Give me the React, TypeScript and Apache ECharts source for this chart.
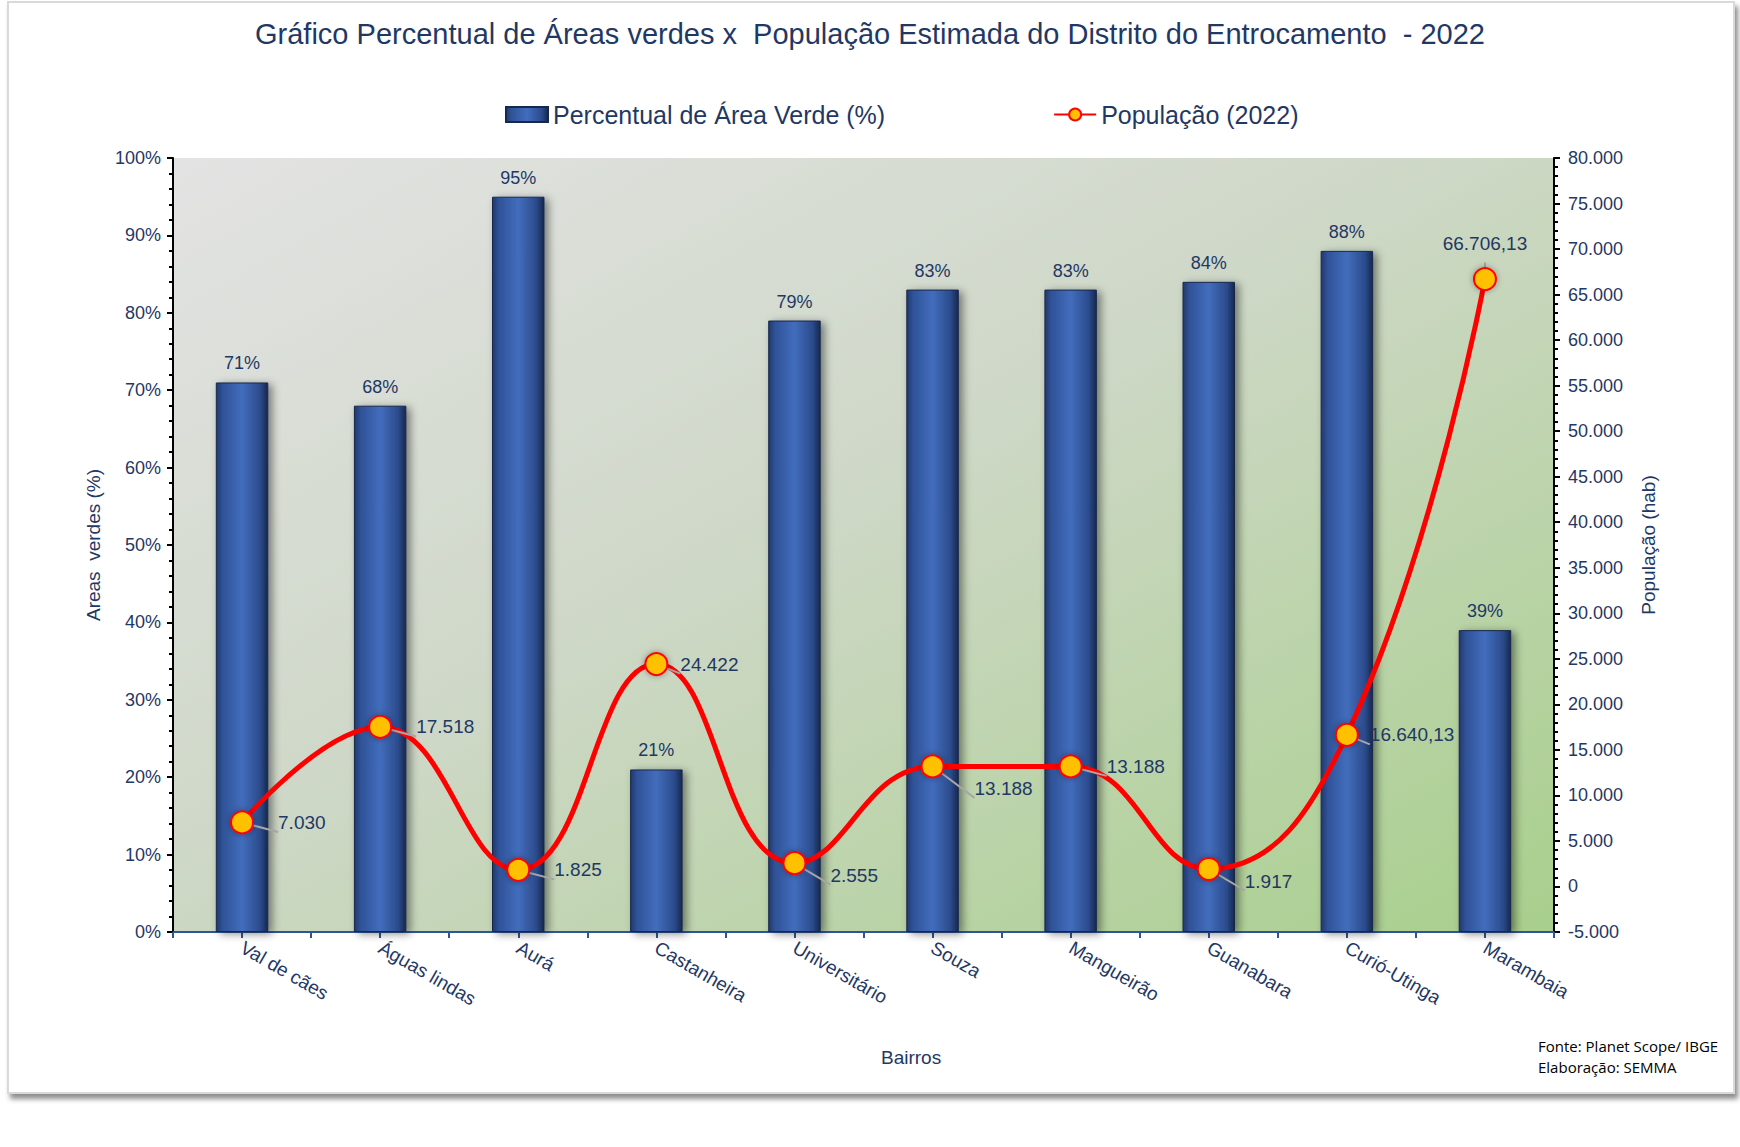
import React, { useEffect, useRef } from 'react';
import * as echarts from 'echarts';

const bairros = [
  'Val de cães',
  'Águas lindas',
  'Aurá',
  'Castanheira',
  'Universitário',
  'Souza',
  'Mangueirão',
  'Guanabara',
  'Curió-Utinga',
  'Marambaia',
];
const percentualVerde = [71, 68, 95, 21, 79, 83, 83, 84, 88, 39];
const populacao = [7030, 17518, 1825, 24422, 2555, 13188, 13188, 1917, 16640.13, 66706.13];

const NAVY = '#1f3864';
const FONT = '"Liberation Sans", Arial, sans-serif';

// 12345.6 -> "12.345,60" (pt-BR style)
const fmtBR = (v: number) => {
  const neg = v < 0;
  const [i, d] = Math.abs(v).toFixed(2).split('.');
  const int = i.replace(/\B(?=(\d{3})+(?!\d))/g, '.');
  return (neg ? '-' : '') + (d === '00' ? int : int + ',' + d);
};

// per-point label tweaks for the population line
const popLabels: Record<number, any> = {
  3: { distance: 12 },
  4: { offset: [0, 12] },
  5: { offset: [6, 22] },
  7: { offset: [0, 12] },
  8: { distance: 11 },
  9: { position: 'top', distance: 14 },
};

const App: React.FC = () => {
  const chartRef = useRef<HTMLDivElement>(null);

  useEffect(() => {
    if (!chartRef.current) return;
    const chart = echarts.init(chartRef.current, undefined, { renderer: 'svg' });

    const barColor = new echarts.graphic.LinearGradient(0, 0, 1, 0, [
      { offset: 0, color: '#22396b' },
      { offset: 0.12, color: '#2f5297' },
      { offset: 0.5, color: '#426dbd' },
      { offset: 0.85, color: '#2c4b8c' },
      { offset: 1, color: '#16284f' },
    ]);

    const options = {
      animation: false,
      backgroundColor: 'transparent',
      textStyle: { fontFamily: FONT, color: NAVY },
      title: {
        text: 'Gráfico Percentual de Áreas verdes x  População Estimada do Distrito do Entrocamento  - 2022',
        left: 'center',
        top: 14,
        textStyle: { fontFamily: FONT, fontSize: 29, fontWeight: 'normal', color: NAVY },
      },
      legend: {
        top: 97,
        left: 500,
        itemGap: 168,
        itemWidth: 42,
        itemHeight: 15,
        textStyle: { fontFamily: FONT, fontSize: 25, color: NAVY },
        data: [
          { name: 'Percentual de Área Verde (%)', icon: 'rect' },
          { name: 'População (2022)' },
        ],
      },
      grid: {
        left: 173,
        right: 186,
        top: 158,
        bottom: 215,
        show: true,
        borderWidth: 0,
        backgroundColor: new echarts.graphic.LinearGradient(0, 0, 1, 1, [
          { offset: 0, color: '#e3e3e3' },
          { offset: 0.45, color: '#cfd8c8' },
          { offset: 1, color: '#a8cf8c' },
        ]),
      },
      xAxis: [
        {
          type: 'category',
          data: bairros,
          axisLine: { lineStyle: { color: '#2f5597', width: 2 } },
          axisTick: { show: false },
          axisLabel: {
            interval: 0,
            rotate: -30,
            margin: 14,
            fontSize: 19,
            color: NAVY,
            fontFamily: FONT,
          },
        },
        {
          // tick marks at category boundaries and centres
          type: 'value',
          position: 'bottom',
          min: 0,
          max: 10,
          interval: 0.5,
          axisLine: { show: false, onZero: false },
          axisTick: { show: true, length: 6, lineStyle: { color: '#2f5597', width: 2 } },
          axisLabel: { show: false },
          splitLine: { show: false },
        },
      ],
      yAxis: [
        {
          type: 'value',
          min: 0,
          max: 100,
          interval: 10,
          name: 'Areas  verdes (%)',
          nameLocation: 'middle',
          nameGap: 70,
          nameRotate: 90,
          nameTextStyle: { fontSize: 19, color: NAVY, fontFamily: FONT },
          axisLine: { show: true, lineStyle: { color: '#000', width: 2 } },
          axisTick: { show: true, length: 6, lineStyle: { color: '#000', width: 2 } },
          minorTick: { show: true, splitNumber: 5, length: 4, lineStyle: { color: '#000', width: 2 } },
          axisLabel: { formatter: '{value}%', fontSize: 18, color: NAVY, margin: 12 },
          splitLine: { show: false },
        },
        {
          type: 'value',
          min: -5000,
          max: 80000,
          interval: 5000,
          name: 'População (hab)',
          nameLocation: 'middle',
          nameGap: 85,
          nameRotate: 90,
          nameTextStyle: { fontSize: 19, color: NAVY, fontFamily: FONT },
          axisLine: { show: true, lineStyle: { color: '#000', width: 2 } },
          axisTick: { show: true, length: 6, lineStyle: { color: '#000', width: 2 } },
          minorTick: { show: true, splitNumber: 5, length: 4, lineStyle: { color: '#000', width: 2 } },
          axisLabel: { formatter: (v: number) => fmtBR(v), fontSize: 18, color: NAVY, margin: 14 },
          splitLine: { show: false },
        },
      ],
      series: [
        {
          name: 'Percentual de Área Verde (%)',
          type: 'bar',
          data: percentualVerde,
          barWidth: '38%',
          itemStyle: {
            color: barColor,
            borderColor: '#17284d',
            borderWidth: 1,
            shadowColor: 'rgba(0,0,0,0.45)',
            shadowBlur: 8,
            shadowOffsetX: 4,
            shadowOffsetY: 2,
          },
          label: {
            show: true,
            position: 'top',
            distance: 10,
            formatter: '{c}%',
            fontSize: 18,
            color: NAVY,
            fontFamily: FONT,
          },
        },
        {
          name: 'População (2022)',
          type: 'line',
          yAxisIndex: 1,
          smooth: 0.45,
          symbol: 'circle',
          symbolSize: 22,
          lineStyle: { color: '#ff0000', width: 5 },
          itemStyle: {
            color: '#ffc000',
            borderColor: '#ff0000',
            borderWidth: 2,
            shadowColor: 'rgba(0,0,0,0.35)',
            shadowBlur: 6,
          },
          label: {
            show: true,
            position: 'right',
            distance: 24,
            fontSize: 19,
            color: NAVY,
            fontFamily: FONT,
            formatter: (p: any) => fmtBR(p.value),
          },
          labelLine: { show: true, lineStyle: { color: '#a6a6a6', width: 2 } },
          data: populacao.map((v, i) => (popLabels[i] ? { value: v, label: popLabels[i] } : v)),
          z: 5,
        },
      ],
      graphic: [
        {
          type: 'text',
          left: 881,
          top: 1048,
          style: { text: 'Bairros', fontSize: 19, fill: NAVY, fontFamily: FONT },
        },
        {
          type: 'text',
          left: 1538,
          top: 1035,
          style: {
            text: 'Fonte: Planet Scope/ IBGE\nElaboração: SEMMA',
            fontSize: 15,
            lineHeight: 21,
            fill: '#000',
            fontFamily: '"Open Sans", sans-serif',
          },
        },
      ],
    };

    chart.setOption(options);
    return () => {
      chart.dispose();
    };
  }, []);

  return (
    <div style={{ position: 'absolute', left: 0, top: 0, width: 1740, height: 1147, background: '#fff' }}>
      <div
        style={{
          position: 'absolute',
          left: 7,
          top: 1,
          width: 1724,
          height: 1089,
          border: '2px solid #d9d9d9',
          background: '#fff',
          boxShadow: '3px 5px 5px rgba(0,0,0,0.45)',
        }}
      />
      <div ref={chartRef} style={{ position: 'absolute', left: 0, top: 0, width: 1740, height: 1147 }} />
    </div>
  );
};

export default App;
